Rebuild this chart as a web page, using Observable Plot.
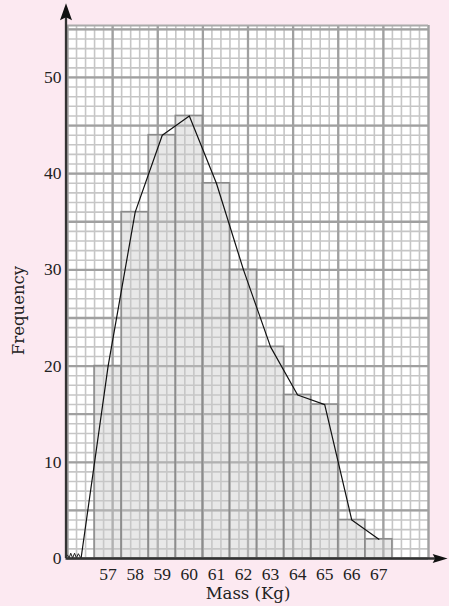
<!DOCTYPE html>
<html><head><meta charset="utf-8">
<script src="https://cdn.jsdelivr.net/npm/d3@7"></script>
<script src="https://cdn.jsdelivr.net/npm/@observablehq/plot@0.6"></script>
<style>html,body{margin:0;padding:0;background:#fce9f1;overflow:hidden} #chart svg{display:block}</style>
</head><body><div id="chart"></div>
<script>
// ---- data ----
const masses = [57, 58, 59, 60, 61, 62, 63, 64, 65, 66, 67];
const frequencies = [20, 36, 44, 46, 39, 30, 22, 17, 16, 4, 2];
const polygonStart = [{mass: 56, freq: 0}];
const xTickLabels = [57, 58, 59, 60, 61, 62, 63, 64, 65, 66, 67];
const yTickValues = [0, 10, 20, 30, 40, 50];
const xTitle = "Mass (Kg)";
const yTitle = "Frequency";
const xDomain = [55.5, 68.8333];
const yDomain = [0, 55.4];
// axis break zig-zag (kg, frequency)
const breakX = [55.5, 55.56, 55.62, 55.69, 55.76, 55.83, 55.9, 56.0];
const breakY = [0.35, 0.05, 0.55, 0.05, 0.55, 0.05, 0.5, 0.0];

// ---- derived tables ----
const bars = masses.map((m, i) => ({mass: m, freq: frequencies[i]}));
const polygon = polygonStart.concat(bars);
const breakPts = breakX.map((x, i) => ({x, y: breakY[i]}));
const xMinor = d3.range(0, 41).map(k => xDomain[0] + k / 3);
const xMajor = d3.range(0, 9).map(k => xDomain[0] + k * 5 / 3);
const yMinor = d3.range(0, 56);
const yMajor = d3.range(0, 56, 5);

const arrowUp = {draw(ctx) { ctx.moveTo(0, 0); ctx.lineTo(6, 17); ctx.lineTo(0, 14); ctx.lineTo(-6, 17); ctx.closePath(); }};
const arrowRight = {draw(ctx) { ctx.moveTo(0, 0); ctx.lineTo(4.5, 15); ctx.lineTo(0, 12.5); ctx.lineTo(-4.5, 15); ctx.closePath(); }};

const tickFont = "Liberation Serif, Times New Roman, serif";
const titleFont = "DejaVu Serif, serif";

const chart = Plot.plot({
  width: 449,
  height: 606,
  marginLeft: 67,
  marginRight: 21,
  marginTop: 25,
  marginBottom: 48,
  style: {background: "#fce9f1", color: "#222"},
  x: {domain: xDomain, axis: null},
  y: {domain: yDomain, axis: null},
  marks: [
    Plot.frame({fill: "white", stroke: "none"}),
    Plot.ruleX(xMinor, {stroke: "#c6c6c6", strokeWidth: 1.6}),
    Plot.ruleY(yMinor, {stroke: "#c6c6c6", strokeWidth: 1.6}),
    Plot.ruleX(xMajor, {stroke: "#a0a0a0", strokeWidth: 2.3}),
    Plot.ruleY(yMajor, {stroke: "#a0a0a0", strokeWidth: 2.3}),
    Plot.ruleY([yDomain[1]], {stroke: "#aaaaaa", strokeWidth: 2}),
    Plot.rectY(bars, {x1: d => d.mass - 0.5, x2: d => d.mass + 0.5, y1: 0, y2: "freq",
      fill: "#c9c9c9", fillOpacity: 0.42, stroke: "#8c8c8c", strokeWidth: 1.6}),
    Plot.line(polygon, {x: "mass", y: "freq", stroke: "#111", strokeWidth: 1.2}),
    Plot.line(breakPts, {x: "x", y: "y", stroke: "#222", strokeWidth: 1}),
    // axes
    Plot.ruleX([xDomain[0]], {y1: 0, y2: 57.2, stroke: "#333", strokeWidth: 2.3, dx: -1.5}),
    Plot.ruleY([0], {x1: xDomain[0], x2: 69.2, stroke: "#333", strokeWidth: 2.3, dx: -1.5}),
    Plot.dot([{x: xDomain[0], y: 57.7}], {x: "x", y: "y", symbol: arrowUp, fill: "#111", stroke: "none", dx: -1.5}),
    Plot.dot([{x: 69.54, y: 0}], {x: "x", y: "y", symbol: arrowRight, rotate: 90, fill: "#111", stroke: "none"}),
    Plot.axisX(xTickLabels, {tickSize: 0, tickPadding: 9, fontSize: 17.5, fontFamily: tickFont, label: null}),
    Plot.axisY(yTickValues, {tickSize: 0, tickPadding: 6, fontSize: 17.5, fontFamily: tickFont, label: null}),
    Plot.text([xTitle], {frameAnchor: "bottom", text: d => d, lineAnchor: "middle", textAnchor: "middle", dy: 35, fontSize: 16.5, fontFamily: titleFont, fill: "#222"}),
    Plot.text([yTitle], {frameAnchor: "left", text: d => d, rotate: -90, textAnchor: "middle", lineAnchor: "middle", dx: -48.5, dy: 18.5, fontSize: 16.5, fontFamily: titleFont, fill: "#222"})
  ]
});
document.getElementById("chart").appendChild(chart);
</script>
</body></html>
